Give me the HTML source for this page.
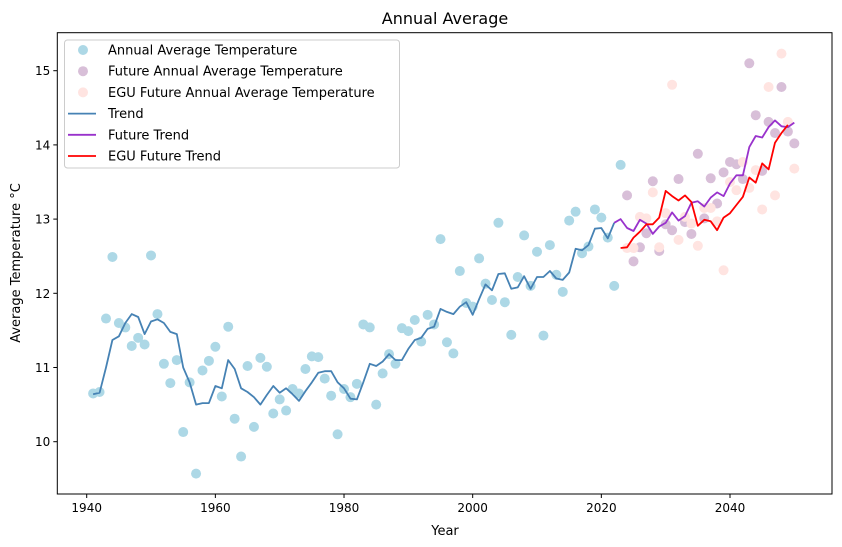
<!DOCTYPE html>
<html><head><meta charset="utf-8"><style>
html,body{margin:0;padding:0;background:#fff;}
svg{display:block;font-family:"DejaVu Sans","Liberation Sans",sans-serif;}
</style></head><body>
<svg id="chart" width="842" height="547" viewBox="0 0 842 547" xmlns="http://www.w3.org/2000/svg">
<rect x="0" y="0" width="842" height="547" fill="#fff"/>
<text x="445" y="24" text-anchor="middle" font-size="16" fill="#000">Annual Average</text>
<text x="445" y="535" text-anchor="middle" font-size="13" fill="#000">Year</text>
<text transform="translate(20,263) rotate(-90)" text-anchor="middle" font-size="13" fill="#000">Average Temperature °C</text>
<g id="marks"></g>
<g id="axes"></g>
<g id="legend"></g>
</svg>
<script>
const histVals = [10.65,10.67,11.66,12.49,11.60,11.54,11.29,11.40,11.31,12.51,11.72,11.05,10.79,11.10,10.13,10.80,9.57,10.96,11.09,11.28,10.61,11.55,10.31,9.80,11.02,10.20,11.13,11.01,10.38,10.57,10.42,10.71,10.65,10.98,11.15,11.14,10.85,10.62,10.10,10.71,10.60,10.78,11.58,11.54,10.50,10.92,11.18,11.05,11.53,11.49,11.64,11.35,11.71,11.58,12.73,11.34,11.19,12.30,11.87,11.82,12.47,12.13,11.91,12.95,11.88,11.44,12.22,12.78,12.10,12.56,11.43,12.65,12.25,12.02,12.98,13.10,12.54,12.63,13.13,13.02,12.75,12.10,13.73];
const histStartYear = 1941;
const trendVals = [10.64,10.66,11.0,11.37,11.42,11.6,11.72,11.68,11.45,11.62,11.65,11.6,11.48,11.45,11.0,10.8,10.5,10.52,10.52,10.75,10.72,11.1,10.98,10.72,10.67,10.6,10.5,10.63,10.75,10.66,10.72,10.64,10.55,10.68,10.8,10.93,10.95,10.95,10.8,10.72,10.58,10.57,10.8,11.05,11.02,11.08,11.18,11.1,11.1,11.25,11.37,11.40,11.52,11.55,11.79,11.75,11.72,11.82,11.88,11.71,11.92,12.12,12.04,12.26,12.27,12.06,12.08,12.23,12.06,12.22,12.22,12.3,12.2,12.18,12.28,12.6,12.58,12.65,12.87,12.88,12.74,12.95];
const trendStartYear = 1941;
const futureVals = [13.32,12.43,12.62,12.81,13.51,12.57,12.93,12.85,13.54,12.96,12.80,13.88,13.01,13.55,13.21,13.63,13.77,13.74,13.54,15.10,14.40,13.65,14.31,14.16,14.78,14.18,14.02];
const egusVals = [12.61,12.61,13.03,13.01,13.36,12.62,13.08,14.81,12.72,13.03,12.94,12.64,13.15,13.15,12.97,12.31,13.50,13.39,13.77,13.42,13.66,13.13,14.78,13.32,15.23,14.31,13.68];
const futureStartYear = 2024;
const futureTrendVals = [12.95,13.00,12.88,12.84,12.99,12.94,12.80,12.90,12.95,13.09,12.98,13.04,13.22,13.24,13.17,13.29,13.36,13.31,13.48,13.59,13.59,13.97,14.12,14.10,14.24,14.33,14.25,14.24,14.30];
const futureTrendStartYear = 2022;
const eguTrendVals = [12.61,12.62,12.75,12.83,12.93,12.93,13.02,13.38,13.31,13.25,13.32,13.23,12.91,12.99,12.97,12.85,13.02,13.08,13.19,13.30,13.56,13.49,13.75,13.67,14.03,14.16,14.27];
const eguTrendStartYear = 2023;
const xTicks = [1940,1960,1980,2000,2020,2040];
const yTicks = [10,11,12,13,14,15];

const NS = "http://www.w3.org/2000/svg";
const L = 57.3, R = 832, T = 32.7, B = 494;
function xS(y){ return 86.7 + (y - 1940) * 6.433; }
function yS(v){ return 441.7 - (v - 10) * 74.2; }
function mk(tag, attrs, parent){ const e = document.createElementNS(NS, tag); for (const k in attrs) e.setAttribute(k, attrs[k]); parent.appendChild(e); return e; }
const marks = document.getElementById('marks');
const axes = document.getElementById('axes');
const legend = document.getElementById('legend');

function scatter(vals, start, color, name){
  vals.forEach((v, i) => {
    const c = mk('circle', {cx: xS(start + i), cy: yS(v), r: 5, fill: color}, marks);
    
    
  });
}
function line(vals, start, color, name){
  const pts = vals.map((v, i) => xS(start + i).toFixed(1) + ',' + yS(v).toFixed(1)).join(' ');
  const p = mk('polyline', {points: pts, fill: 'none', stroke: color, 'stroke-width': 1.8, 'stroke-linejoin': 'round'}, marks);
  
  
}
scatter(histVals, histStartYear, '#add8e6', 'annual-point');
scatter(futureVals, futureStartYear, '#d8bfd8', 'future-point');
scatter(egusVals, futureStartYear, '#ffe4e1', 'egu-future-point');
line(trendVals, trendStartYear, '#4682b4', 'trend-line');
line(futureTrendVals, futureTrendStartYear, '#9932cc', 'future-trend-line');
line(eguTrendVals, eguTrendStartYear, '#ff0000', 'egu-future-trend-line');

const frame = mk('rect', {x: L, y: T, width: R - L, height: B - T, fill: 'none', stroke: '#000', 'stroke-width': 1}, axes);


xTicks.forEach(t => {
  const x = xS(t);
  const tk = mk('line', {x1: x, y1: B, x2: x, y2: B + 4, stroke: '#000'}, axes);
  
  
  const tx = mk('text', {x: x, y: B + 18, 'text-anchor': 'middle', 'font-size': 12}, axes);
  tx.textContent = t;
  
  
});
yTicks.forEach(t => {
  const y = yS(t);
  const tk = mk('line', {x1: L - 4, y1: y, x2: L, y2: y, stroke: '#000'}, axes);
  
  
  const tx = mk('text', {x: L - 7, y: y + 4.5, 'text-anchor': 'end', 'font-size': 12}, axes);
  tx.textContent = t;
  
  
});

const box = mk('rect', {x: 64.5, y: 40, width: 335, height: 128, rx: 3, fill: '#fff', 'fill-opacity': 0.8, stroke: '#ccc'}, legend);


const entries = [
  ['Annual Average Temperature', '#add8e6', 'pt'],
  ['Future Annual Average Temperature', '#d8bfd8', 'pt'],
  ['EGU Future Annual Average Temperature', '#ffe4e1', 'pt'],
  ['Trend', '#4682b4', 'ln'],
  ['Future Trend', '#9932cc', 'ln'],
  ['EGU Future Trend', '#ff0000', 'ln']
];
entries.forEach((e, i) => {
  const y = 50 + i * 21.2;
  const g = mk('g', {}, legend);
  
  
  if (e[2] === 'pt') mk('circle', {cx: 83, cy: y, r: 5, fill: e[1]}, g);
  else mk('line', {x1: 68, y1: y, x2: 96, y2: y, stroke: e[1], 'stroke-width': 1.8}, g);
  const t = mk('text', {x: 108, y: y + 4.5, 'font-size': 13}, g);
  t.textContent = e[0];
});
</script>
</body></html>
